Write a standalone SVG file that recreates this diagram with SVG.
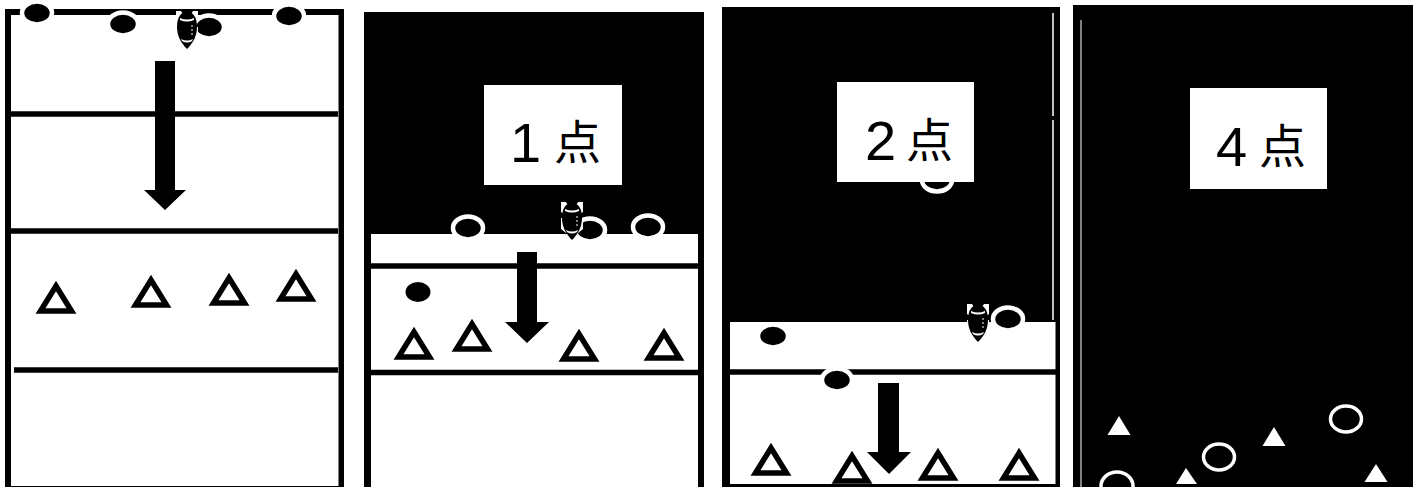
<svg xmlns="http://www.w3.org/2000/svg" width="1423" height="487" viewBox="0 0 1423 487">
<style>
.k{fill:#000}.w{fill:#fff}
.ln{stroke:#000;stroke-width:5.5;fill:none}
.c{fill:#000;stroke:#fff;stroke-width:4.5}
.d{fill:#000}
.t{fill:#fff;stroke:#000;stroke-width:5.5;stroke-linejoin:miter}
.wt{fill:#fff}
.o{fill:none;stroke:#fff;stroke-width:3.5}
.lab{font-family:"Noto Sans CJK JP","Liberation Sans",sans-serif;font-size:47px;fill:#000}
.dig{font-family:"Liberation Sans","Noto Sans CJK JP",sans-serif;font-size:56px}
</style>
<defs>
<path id="tri" d="M0,4 L15.500,29 L-15.500,29 Z"/>
<g id="pl">
<path d="M-11,-19 L-6,-19 L-3,-14 H3 L6,-19 L11,-19 L11,-9 L7,-6 H-7 L-11,-9 Z" fill="#fff"/>
<path d="M-11,-3 L-7,-3 L-7,9 H7 L7,-3 L11,-3 L11,8 L6,12 H-6 L-11,8 Z" fill="#fff"/>
<path d="M0,-18 C6,-18 10,-13 10,-3 C10,6 6,13 0,19 C-6,13 -10,6 -10,-3 C-10,-13 -6,-18 0,-18 Z" fill="#000"/>
<path d="M-7,-12 Q0,-9 7,-12 L7,-10 Q0,-7 -7,-10 Z M-6,9 Q0,12 6,9 L5,11 Q0,14 -5,11 Z" fill="#fff"/>
<path d="M5,-5 V6" stroke="#fff" stroke-width="1" stroke-dasharray="2 2"/>
</g>
</defs>

<g id="panel-1">
<rect class="k" x="5" y="9" width="339" height="478"/>
<rect class="w" x="11" y="15" width="327.500" height="471"/>
<path class="ln" d="M11,114 H338 M11,231 H338 M14,370 H338"/>
<g id="p1-c1"><ellipse class="c" cx="37" cy="13" rx="15" ry="11.500"/></g>
<g id="p1-c2"><ellipse class="c" cx="123" cy="24" rx="15" ry="11.500"/></g>
<g id="p1-c3"><ellipse class="c" cx="209" cy="27" rx="15" ry="11.500"/></g>
<g id="p1-c4"><ellipse class="c" cx="289" cy="16" rx="15" ry="11.500"/></g>
<g id="p1-player"><use href="#pl" x="187" y="30"/></g>
<g id="p1-t1"><use href="#tri" class="t" x="56" y="282"/></g>
<g id="p1-t2"><use href="#tri" class="t" x="151" y="276"/></g>
<g id="p1-t3"><use href="#tri" class="t" x="229" y="274"/></g>
<g id="p1-t4"><use href="#tri" class="t" x="296" y="270"/></g>
</g>

<g id="panel-2">
<rect class="k" x="364" y="12" width="340" height="475"/>
<rect class="w" x="371" y="234" width="327" height="253"/>
<path class="ln" d="M371,266 H698 M371,372.500 H698"/>
<g id="p2-c1"><ellipse class="c" cx="468" cy="228" rx="15" ry="11.500"/></g>
<g id="p2-c2"><ellipse class="c" cx="590" cy="230" rx="15" ry="11.500"/></g>
<g id="p2-c3"><ellipse class="c" cx="648" cy="227" rx="15" ry="11.500"/></g>
<g id="p2-c4"><ellipse class="d" cx="418" cy="292" rx="12.500" ry="10"/></g>
<g id="p2-player"><use href="#pl" x="572" y="221"/></g>
<g id="p2-t1"><use href="#tri" class="t" x="414" y="328"/></g>
<g id="p2-t2"><use href="#tri" class="t" x="472" y="320"/></g>
<g id="p2-t3"><use href="#tri" class="t" x="579" y="330"/></g>
<g id="p2-t4"><use href="#tri" class="t" x="664" y="329"/></g>
<g id="p2-label"><rect class="w" x="484" y="85" width="138" height="100"/>
<text class="lab"><tspan class="dig" x="510" y="162">1</tspan><tspan x="554" y="159">点</tspan></text></g>
</g>

<g id="panel-3">
<rect class="k" x="722" y="7" width="338" height="480"/>
<rect class="w" x="730" y="322" width="325.500" height="162"/>
<path d="M1053,13 V116 M1053,120 V320" stroke="#fff" stroke-width="1.500" fill="none"/>
<path class="ln" d="M730,372 H1056"/>
<g id="p3-c1"><ellipse class="c" cx="937" cy="180" rx="15" ry="11.500"/></g>
<g id="p3-c2"><ellipse class="c" cx="1008" cy="319" rx="15" ry="11.500"/></g>
<g id="p3-c3"><ellipse class="c" cx="773" cy="336" rx="15" ry="11.500"/></g>
<g id="p3-c4"><ellipse class="c" cx="837" cy="380" rx="15" ry="11.500"/></g>
<g id="p3-player"><use href="#pl" x="978" y="323"/></g>
<g id="p3-t1"><use href="#tri" class="t" x="771" y="444"/></g>
<g id="p3-t2"><use href="#tri" class="t" x="852" y="452"/></g>
<g id="p3-t3"><use href="#tri" class="t" x="938" y="449"/></g>
<g id="p3-t4"><use href="#tri" class="t" x="1019" y="449"/></g>
<g id="p3-label"><rect class="w" x="837" y="82" width="137" height="100"/>
<text class="lab"><tspan class="dig" x="865" y="160">2</tspan><tspan x="906" y="157">点</tspan></text></g>
</g>

<g id="panel-4">
<rect class="k" x="1073" y="5" width="340" height="482"/>
<path d="M1081,20 V487" stroke="#fff" stroke-width="1" fill="none"/>
<g id="p4-t1"><path class="wt" d="M1119,416 L1130.500,435 L1107.500,435 Z"/></g>
<g id="p4-t2"><path class="wt" d="M1274,427 L1285.500,446 L1262.500,446 Z"/></g>
<g id="p4-t3"><path class="wt" d="M1186,468 L1197,484 L1176,484 Z"/></g>
<g id="p4-t4"><path class="wt" d="M1376,464 L1387.500,482 L1364.500,482 Z"/></g>
<g id="p4-o1"><ellipse class="o" cx="1346" cy="419" rx="15.500" ry="13"/></g>
<g id="p4-o2"><ellipse class="o" cx="1219" cy="457" rx="15.500" ry="13"/></g>
<g id="p4-o3"><ellipse class="o" cx="1117" cy="486" rx="16" ry="14"/></g>
<g id="p4-label"><rect class="w" x="1190" y="88" width="137" height="101"/>
<text class="lab"><tspan class="dig" x="1216" y="166">4</tspan><tspan x="1259" y="163">点</tspan></text></g>
</g>

<g id="connectors">
<path d="M155,61 H175 V190 H186 L165,210 L144,190 H155 Z"/>
<path d="M517,252 H537 V322 H549 L527,343 L505,322 H517 Z"/>
<path d="M878,383 H899 V452 H911 L889,474 L867,452 H878 Z"/>
</g>
</svg>
